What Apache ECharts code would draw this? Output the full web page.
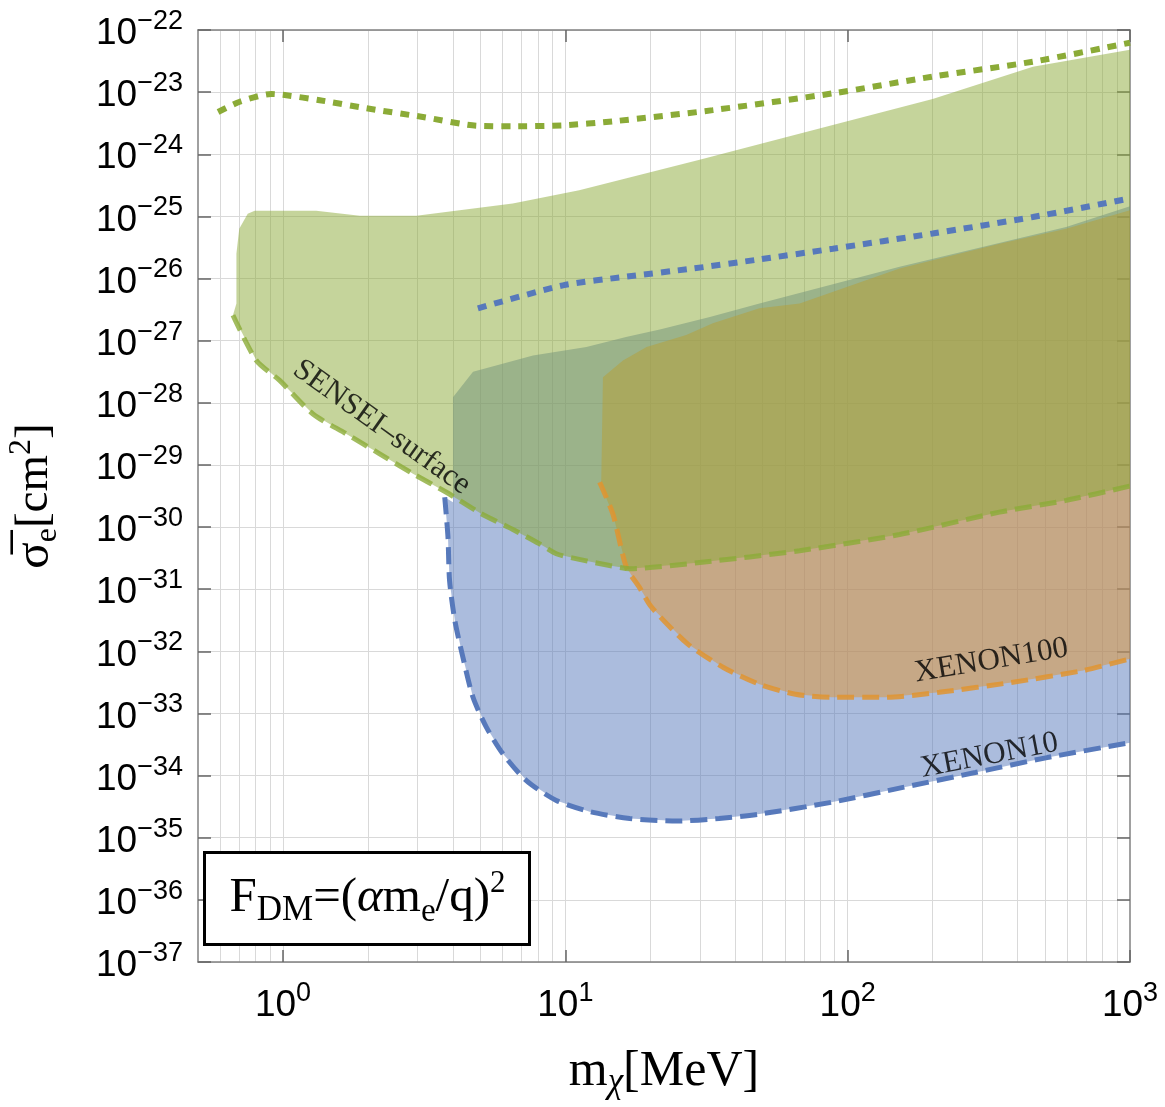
<!DOCTYPE html>
<html>
<head>
<meta charset="utf-8">
<script src="https://cdn.jsdelivr.net/npm/echarts@6/dist/echarts.min.js"></script>
<style>
html,body{margin:0;padding:0;background:#fff;}
#chart{width:1165px;height:1107px;}
</style>
</head>
<body>
<div id="chart"></div>
<script>
// ---------- axis data ----------
const massTicks = [1, 10, 100, 1000];                       // MeV, labelled decades
const massGrid = [0.6, 0.7, 0.8, 0.9, 1, 2, 3, 4, 5, 6, 7, 8, 9,
                  10, 20, 30, 40, 50, 60, 70, 80, 90,
                  100, 200, 300, 400, 500, 600, 700, 800, 900];
const sigmaExpMin = -37;   // 1e-37 cm^2
const sigmaExpMax = -22;   // 1e-22 cm^2

// ---------- SENSEI-surface (green) : [m_chi (MeV), sigma_e (cm^2)] ----------
const senseiTop = [
  [0.684, 3.98e-27], [0.684, 2.51e-26], [0.70, 6.31e-26], [0.75, 1.10e-25],
  [0.794, 1.23e-25], [1.31, 1.23e-25], [1.87, 1.02e-25], [2.97, 1.02e-25],
  [6.51, 1.62e-25], [11.2, 2.63e-25], [29.9, 8.13e-25], [88.6, 2.95e-24],
  [200, 7.76e-24], [453, 2.57e-23], [1000, 4.79e-23]
];
const senseiLimit = [
  [0.665, 2.57e-27], [0.805, 4.79e-28], [0.973, 2.29e-28], [1.277, 6.61e-29],
  [1.677, 3.16e-29], [2.2, 1.51e-29], [2.886, 7.24e-30], [3.79, 3.63e-30],
  [4.97, 1.70e-30], [6.52, 9.12e-31], [8.11, 5.37e-31], [9.29, 3.72e-31],
  [11.2, 3.02e-31], [14.35, 2.40e-31], [16.9, 2.14e-31], [29.9, 2.69e-31],
  [67.6, 4.17e-31], [152.7, 7.59e-31], [345, 1.74e-30], [594, 2.69e-30],
  [1000, 4.57e-30]
];

// ---------- XENON10 (blue) ----------
const xenon10Top = [
  [4.0, 2.51e-30], [4.0, 1.23e-28], [4.71, 3.16e-28], [7.68, 5.75e-28],
  [11.87, 7.94e-28], [16.4, 1.15e-27], [21.6, 1.51e-27], [32.5, 2.40e-27],
  [48.7, 3.98e-27], [152.7, 1.55e-26], [594, 6.76e-26], [1000, 1.45e-25]
];
const xenon10Limit = [
  [3.74, 3.02e-30], [3.84, 6.92e-31], [3.89, 1.38e-31], [4.06, 3.16e-32],
  [4.34, 7.94e-33], [4.71, 1.82e-33], [5.25, 6.03e-34], [6.01, 2.24e-34],
  [7.28, 8.32e-35], [9.29, 3.98e-35], [12.2, 2.63e-35], [16.9, 2.04e-35],
  [25, 1.86e-35], [35, 2.04e-35], [48.7, 2.40e-35], [87.6, 3.72e-35],
  [157, 6.46e-35], [283, 1.12e-34], [509, 1.95e-34], [1000, 3.39e-34]
];

// ---------- XENON100 (orange) ----------
const xenon100Top = [
  [13.4, 5.01e-30], [13.59, 2.57e-28], [16.0, 4.79e-28], [19.4, 7.94e-28],
  [26.8, 1.23e-27], [33.3, 1.91e-27], [48.7, 3.31e-27], [67.6, 3.98e-27],
  [152.7, 1.45e-26], [345, 3.63e-26], [594, 6.31e-26], [1000, 1.26e-25]
];
const xenon100Limit = [
  [13.23, 5.25e-30], [14.74, 1.62e-30], [16.46, 2.24e-31], [18.3, 1.07e-31],
  [20.2, 5.13e-32], [27.1, 1.32e-32], [36.3, 5.50e-33], [48.7, 2.95e-33],
  [65.3, 2.04e-33], [87.6, 1.82e-33], [136, 1.82e-33], [211, 2.19e-33],
  [380, 3.16e-33], [682, 4.90e-33], [1000, 7.59e-33]
];

// ---------- dotted projections ----------
const greenDotted = [
  [0.589, 4.79e-24], [0.703, 7.0e-24], [0.91, 9.33e-24], [1.028, 8.91e-24],
  [1.349, 7.41e-24], [1.974, 5.50e-24], [3.13, 3.98e-24], [4.84, 2.88e-24],
  [6.52, 2.82e-24], [9.81, 2.92e-24], [14.74, 3.39e-24], [33.3, 5.13e-24],
  [88.6, 9.55e-24], [200, 1.78e-23], [453, 3.09e-23], [1000, 6.24e-23]
];
const blueDotted = [
  [4.9, 3.31e-27], [9.81, 7.76e-27], [16.44, 1.07e-26], [28.3, 1.45e-26],
  [47.5, 2.0e-26], [88.6, 3.02e-26], [200, 5.31e-26], [453, 9.77e-26],
  [1000, 1.95e-25]
];

// ---------- text labels on curves ----------
const curveLabels = [
  { text: 'SENSEI\u2013surface', at: [2.236, 4.02e-29], rotate: -35.5 },
  { text: 'XENON100', at: [323, 7.08e-33], rotate: 9.5 },
  { text: 'XENON10', at: [318, 2.09e-34], rotate: 11 }
];

// ---------- colours ----------
const GREEN = '#8bab37', BLUE = '#5779bb', ORANGE = '#e1942f';
const GREEN_FILL = 'rgba(139,170,55,0.5)';
const BLUE_FILL = 'rgba(87,121,187,0.5)';
const ORANGE_FILL = 'rgba(225,148,47,0.5)';

const SERIF = 'Liberation Serif';
const SANS = 'Liberation Sans';

function toPlot(pts) { return pts.map(p => [p[0], Math.log10(p[1])]); }

function fillSeries(name, top, bottom, color) {
  const poly = toPlot(top.concat(bottom.slice().reverse()));
  return {
    name: name, type: 'custom', silent: true, clip: true, z: 2,
    xAxisIndex: 0, yAxisIndex: 0,
    data: poly, encode: { x: 0, y: 1 },
    renderItem: function (params, api) {
      if (params.dataIndex !== 0) return null;
      const pts = poly.map(p => api.coord(p));
      return { type: 'polygon', shape: { points: pts }, style: { fill: color } };
    }
  };
}

function lineSeries(name, pts, color, width, dash, opacity) {
  return {
    name: name, type: 'line', silent: true, z: 2, clip: true,
    xAxisIndex: 0, yAxisIndex: 0,
    data: toPlot(pts), showSymbol: false, symbol: 'none', smooth: 0.25,
    lineStyle: { color: color, width: width, type: dash, cap: 'butt', opacity: opacity },
    emphasis: { disabled: true }
  };
}

const tickRich = {
  b: { fontFamily: SANS, fontSize: 37, lineHeight: 52, color: '#000' },
  s: { fontFamily: SANS, fontSize: 27, lineHeight: 20, verticalAlign: 'top', color: '#000' }
};
function expLabel(exp) {
  const e = Math.round(exp);
  return '{b|10}{s|' + (e < 0 ? '\u2212' : '') + Math.abs(e) + '}';
}

const chart = echarts.init(document.getElementById('chart'), null, { renderer: 'canvas' });

const option = {
  backgroundColor: '#ffffff',
  animation: false,
  grid: { left: 198, right: 35, top: 30, bottom: 145, containLabel: false, outerBoundsMode: 'none' },
  xAxis: [
    {
      type: 'log', logBase: 10, min: 0.5, max: 1000, position: 'bottom',
      axisLine: { show: true, lineStyle: { color: '#808080', width: 1.5 } },
      axisTick: { show: true, inside: true, length: 12, customValues: massTicks,
                  lineStyle: { color: '#666', width: 1.5 } },
      axisLabel: { show: true, customValues: massTicks, margin: 10, padding: [8, 0, 0, 0],
                   formatter: v => expLabel(Math.log10(v)), rich: tickRich },
      splitLine: { show: false }, minorTick: { show: false }, minorSplitLine: { show: false },
      name: '{m|m}{c|\u03c7}{m|[MeV]}',
      nameLocation: 'middle', nameGap: 82,
      nameTextStyle: { rich: {
        m: { fontFamily: SERIF, fontSize: 50, lineHeight: 56, color: '#000' },
        c: { fontFamily: SERIF, fontSize: 35, fontStyle: 'italic', lineHeight: 30, verticalAlign: 'bottom', color: '#000' }
      } }
    },
    {
      type: 'log', logBase: 10, min: 0.5, max: 1000, position: 'top',
      axisLine: { show: true, lineStyle: { color: '#808080', width: 1.5 } },
      axisTick: { show: true, inside: true, length: 12, customValues: massTicks,
                  lineStyle: { color: '#666', width: 1.5 } },
      axisLabel: { show: false }, splitLine: { show: false }
    }
  ],
  yAxis: [
    {
      type: 'value', min: sigmaExpMin, max: sigmaExpMax, interval: 1, position: 'left',
      axisLine: { show: true, lineStyle: { color: '#808080', width: 1.5 } },
      axisTick: { show: true, inside: true, length: 13, lineStyle: { color: '#666', width: 1.5 } },
      axisLabel: { show: true, margin: 15, padding: [8, 0, 0, 0],
                   formatter: v => expLabel(v), rich: tickRich },
      splitLine: { show: true, lineStyle: { color: '#d9d9d9', width: 1 } },
      name: '{s|\u03c3\u0305}{e|e}{t|[cm}{p|2}{t|]}',
      nameLocation: 'middle', nameRotate: 90, nameGap: 134,
      nameTextStyle: { rich: {
        s: { fontFamily: SERIF, fontSize: 49, lineHeight: 58, color: '#000' },
        e: { fontFamily: SERIF, fontSize: 32, lineHeight: 34, verticalAlign: 'bottom', color: '#000' },
        t: { fontFamily: SERIF, fontSize: 47, lineHeight: 58, color: '#000' },
        p: { fontFamily: SERIF, fontSize: 32, lineHeight: 44, verticalAlign: 'top', color: '#000' }
      } }
    },
    {
      type: 'value', min: sigmaExpMin, max: sigmaExpMax, interval: 1, position: 'right',
      axisLine: { show: true, lineStyle: { color: '#808080', width: 1.5 } },
      axisTick: { show: true, inside: true, length: 13, lineStyle: { color: '#666', width: 1.5 } },
      axisLabel: { show: false }, splitLine: { show: false }
    }
  ],
  series: [
    {
      name: 'grid', type: 'line', data: [], silent: true, z: 0,
      xAxisIndex: 0, yAxisIndex: 0,
      markLine: {
        silent: true, animation: false, symbol: ['none', 'none'], z: 0,
        label: { show: false },
        lineStyle: { color: '#d9d9d9', width: 1, type: 'solid' },
        emphasis: { disabled: true },
        data: massGrid.map(v => ({ xAxis: v }))
      }
    },
    fillSeries('XENON10', xenon10Top, xenon10Limit, BLUE_FILL),
    lineSeries('XENON10 limit', xenon10Limit, BLUE, 5, [17, 8], 1),
    fillSeries('XENON100', xenon100Top, xenon100Limit, ORANGE_FILL),
    lineSeries('XENON100 limit', xenon100Limit, ORANGE, 5, [17, 8], 0.85),
    fillSeries('SENSEI-surface', senseiTop, senseiLimit, GREEN_FILL),
    lineSeries('SENSEI limit', senseiLimit, GREEN, 5, [17, 8], 0.8),
    lineSeries('SENSEI projection', greenDotted, GREEN, 6, [9, 8], 1),
    lineSeries('XENON projection', blueDotted, BLUE, 6, [9, 8], 1),
    {
      name: 'labels', type: 'scatter', silent: true, z: 5,
      xAxisIndex: 0, yAxisIndex: 0, symbolSize: 1,
      itemStyle: { color: 'rgba(0,0,0,0)' },
      data: curveLabels.map(l => ({
        value: [l.at[0], Math.log10(l.at[1])],
        label: { show: true, position: 'inside', formatter: l.text, rotate: l.rotate,
                 fontFamily: SERIF, fontSize: 31, color: '#000' }
      }))
    }
  ],
  graphic: [
    {
      type: 'group', left: 203, top: 851, silent: true, z: 100,
      children: [
        { type: 'rect', z: 100, shape: { x: 0, y: 0, width: 325, height: 92 },
          style: { fill: '#ffffff', stroke: '#000', lineWidth: 3 } },
        { type: 'text', z: 101, x: 163, y: 46,
          style: {
            text: '{n|F}{d|DM}{n|=(}{a|\u03b1}{n|m}{e|e}{n|/q)}{p|2}',
            align: 'center', verticalAlign: 'middle',
            rich: {
              n: { fontFamily: SERIF, fontSize: 49, lineHeight: 60, fill: '#000' },
              a: { fontFamily: SERIF, fontSize: 49, fontStyle: 'italic', lineHeight: 60, fill: '#000' },
              d: { fontFamily: SERIF, fontSize: 35, lineHeight: 36, verticalAlign: 'bottom', fill: '#000' },
              e: { fontFamily: SERIF, fontSize: 33, lineHeight: 35, verticalAlign: 'bottom', fill: '#000' },
              p: { fontFamily: SERIF, fontSize: 31, lineHeight: 46, verticalAlign: 'top', fill: '#000' }
            }
          } }
      ]
    }
  ]
};

chart.setOption(option);
</script>
</body>
</html>
